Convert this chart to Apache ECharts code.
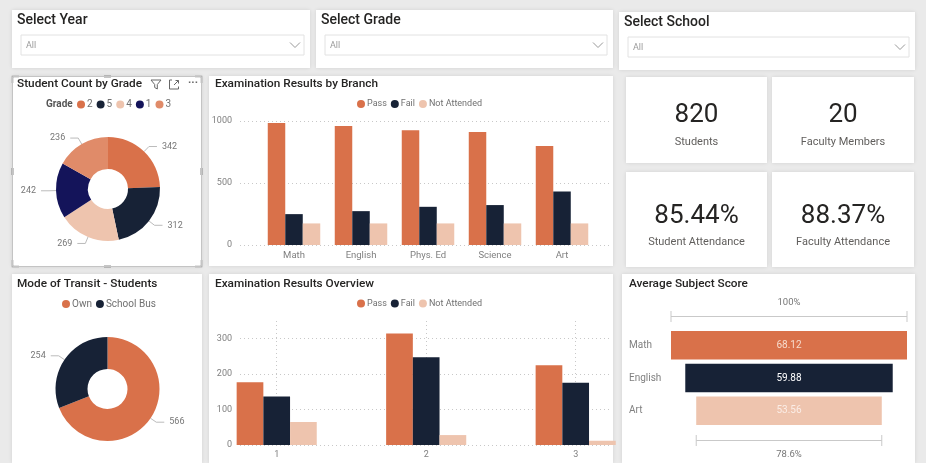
<!DOCTYPE html>
<html><head><meta charset="utf-8">
<script src="https://cdn.jsdelivr.net/npm/echarts@6/dist/echarts.min.js"></script>
<style>html,body{margin:0;padding:0;background:#eaeaea}#c{width:926px;height:463px}</style>
</head><body><div id="c"></div>
<script>
// ---------- data ----------
const slicerTitles = ['Select Year', 'Select Grade', 'Select School'];
const slicerValues = ['All', 'All', 'All'];
const gradeNames = ['2', '5', '4', '1', '3'];
const gradeCounts = [342, 312, 269, 242, 236];
const resultNames = ['Pass', 'Fail', 'Not Attended'];
const branchCategories = ['Math', 'English', 'Phys. Ed', 'Science', 'Art'];
const branchPass = [984, 960, 925, 912, 799];
const branchFail = [249, 273, 308, 322, 432];
const branchNotAttended = [174, 174, 174, 174, 174];
const branchTicks = [0, 500, 1000];
const transitNames = ['Own', 'School Bus'];
const transitCounts = [566, 254];
const overviewCategories = ['1', '2', '3'];
const overviewPass = [177, 315, 225];
const overviewFail = [137, 248, 176];
const overviewNotAttended = [65, 28, 12];
const overviewTicks = [0, 100, 200, 300];
const subjectNames = ['Math', 'English', 'Art'];
const subjectScores = [68.12, 59.88, 53.56];
const kpiValues = ['820', '20', '85.44%', '88.37%'];
const kpiLabels = ['Students', 'Faculty Members', 'Student Attendance', 'Faculty Attendance'];

// ---------- style ----------
const FONT = 'Roboto, "Noto Sans", sans-serif';
const ORANGE = '#D9714A', NAVY = '#172236', PEACH = '#EEC4AE', INDIGO = '#14145A', SALMON = '#E08B69';
const gradeColors = [ORANGE, NAVY, PEACH, INDIGO, SALMON];
const subjectColors = [ORANGE, NAVY, PEACH];
const subjectLabelColors = ['#F7DCCD', '#FFFFFF', '#FBEDE6'];
const TITLE = '#252423', AXIS = '#808080';

const chart = echarts.init(document.getElementById('c'));

const valueAxisCommon = {
  type: 'value', axisLine: {show: false}, axisTick: {show: false},
  axisLabel: {color: AXIS, fontSize: 9, fontFamily: FONT, formatter: v => String(v)},
  splitLine: {lineStyle: {type: [1, 3], color: '#c8c8c8'}}
};

function barSeries(name, color, data, xi, width) {
  return {type: 'bar', name, xAxisIndex: xi, yAxisIndex: xi, data, barWidth: width, barGap: '0%',
    itemStyle: {color}, clip: false, emphasis: {disabled: true}};
}
function legend(data, left, top, size, gap) {
  return {data, left, top, padding: 0, itemWidth: 8, itemHeight: 8, itemGap: gap, icon: 'circle',
    textStyle: {fontSize: size, color: '#707070', padding: [0, 0, 0, -3], fontFamily: FONT}};
}

const maxScore = Math.max(...subjectScores);
const minScore = Math.min(...subjectScores);

const option = {
  animation: false,
  backgroundColor: '#eaeaea',
  textStyle: {fontFamily: FONT},
  legend: [
    legend(gradeNames, 77, 99.5, 10, 4),
    legend(resultNames, 357, 99.5, 9, 4),
    legend(transitNames, 62, 299, 10, 4),
    legend(resultNames, 357, 299, 9, 4)
  ],
  grid: [
    {left: 240, right: 314, top: 121, bottom: 218},
    {left: 240, right: 314, top: 321, bottom: 18},
    {left: 671, right: 19, top: 329, bottom: 36}
  ],
  xAxis: [
    {type: 'value', gridIndex: 0, min: -0.806, max: 4.746, axisLine: {show: false},
      axisTick: {show: false, customValues: branchCategories.map((c, i) => i)},
      splitLine: {show: false},
      axisLabel: {customValues: branchCategories.map((c, i) => i), color: AXIS, fontSize: 9.5, fontFamily: FONT, margin: 6,
        formatter: v => branchCategories[v] ?? ''}},
    {type: 'value', gridIndex: 1, min: 0.7545, max: 3.243, axisLine: {show: false},
      axisTick: {show: false, customValues: overviewCategories.map(Number)},
      splitLine: {show: true, lineStyle: {type: [1, 3], color: '#c8c8c8'}},
      axisLabel: {customValues: overviewCategories.map(Number), color: AXIS, fontSize: 9, fontFamily: FONT, margin: 5,
        formatter: v => overviewCategories[overviewCategories.map(Number).indexOf(v)] ?? ''}},
    {type: 'value', gridIndex: 2, min: 0, max: maxScore, show: false}
  ],
  yAxis: [
    Object.assign({}, valueAxisCommon, {gridIndex: 0, min: branchTicks[0], max: branchTicks[branchTicks.length - 1],
      interval: branchTicks[1] - branchTicks[0], axisLabel: Object.assign({}, valueAxisCommon.axisLabel, {margin: 8})}),
    Object.assign({}, valueAxisCommon, {gridIndex: 1, min: overviewTicks[0], max: 350,
      interval: overviewTicks[1] - overviewTicks[0],
      axisLabel: Object.assign({}, valueAxisCommon.axisLabel, {margin: 8, showMaxLabel: false}),
      splitLine: {showMaxLine: false, lineStyle: {type: [1, 3], color: '#c8c8c8'}}}),
    {type: 'category', gridIndex: 2, data: subjectNames, inverse: true, axisLine: {show: false}, axisTick: {show: false},
      axisLabel: {align: 'left', margin: 42, color: AXIS, fontSize: 10, fontFamily: FONT}}
  ],
  series: [
    {type: 'pie', name: 'Grade', center: [108, 189], radius: [20, 52], startAngle: 90,
      data: gradeNames.map((n, i) => ({name: n, value: gradeCounts[i], itemStyle: {color: gradeColors[i]}})),
      label: {formatter: '{c}', fontSize: 9, color: '#777', fontFamily: FONT},
      labelLine: {length: 7, length2: 8, lineStyle: {color: '#bbb'}}, emphasis: {disabled: true}},
    {type: 'pie', name: 'Transit', center: [107.5, 389], radius: [20, 52], startAngle: 90,
      data: transitNames.map((n, i) => ({name: n, value: transitCounts[i], itemStyle: {color: [ORANGE, NAVY][i]}})),
      label: {formatter: '{c}', fontSize: 9, color: '#777', fontFamily: FONT},
      labelLine: {length: 7, length2: 8, lineStyle: {color: '#bbb'}}, emphasis: {disabled: true}},
    barSeries('Pass', ORANGE, branchCategories.map((c, i) => [i, branchPass[i]]), 0, 17.5),
    barSeries('Fail', NAVY, branchCategories.map((c, i) => [i, branchFail[i]]), 0, 17.5),
    barSeries('Not Attended', PEACH, branchCategories.map((c, i) => [i, branchNotAttended[i]]), 0, 17.5),
    barSeries('Pass', ORANGE, overviewCategories.map((c, i) => [Number(c), overviewPass[i]]), 1, 26.7),
    barSeries('Fail', NAVY, overviewCategories.map((c, i) => [Number(c), overviewFail[i]]), 1, 26.7),
    barSeries('Not Attended', PEACH, overviewCategories.map((c, i) => [Number(c), overviewNotAttended[i]]), 1, 26.7),
    {type: 'bar', name: 'offset', xAxisIndex: 2, yAxisIndex: 2, stack: 'funnel', silent: true, barCategoryGap: '13%',
      data: subjectScores.map(v => (maxScore - v) / 2), itemStyle: {color: 'transparent'}},
    {type: 'bar', name: 'Average Score', xAxisIndex: 2, yAxisIndex: 2, stack: 'funnel', barCategoryGap: '13%',
      emphasis: {disabled: true},
      data: subjectScores.map((v, i) => ({value: v, itemStyle: {color: subjectColors[i]},
        label: {color: subjectLabelColors[i]}})),
      label: {show: true, position: 'inside', fontSize: 10, fontFamily: FONT, formatter: p => p.value.toFixed(2)}}
  ]
};
chart.setOption(option);

// ---------- decorations (panels, titles, KPI cards) ----------
const g = [];
function panel(x, y, w, h) {
  g.push({type: 'rect', z: -10, shape: {x, y, width: w, height: h},
    style: {fill: '#fff', shadowBlur: 4, shadowColor: 'rgba(0,0,0,0.10)'}});
}
function text(t, x, y, size, color, weight, align) {
  g.push({type: 'text', z: 10, style: {text: t, x, y, fill: color, fontSize: size, fontFamily: FONT,
    fontWeight: weight || 'normal', textAlign: align || 'left', textVerticalAlign: 'middle'}});
}
function line(points, color, w) {
  g.push({type: 'polyline', z: 10, shape: {points}, style: {stroke: color, lineWidth: w || 1, fill: null}});
}
const slicerBoxes = [[12, 10, 298, 58], [316, 10, 297, 58], [619, 12, 296, 58]];
slicerBoxes.forEach((b, i) => {
  panel(b[0], b[1], b[2], b[3]);
  text(slicerTitles[i], b[0] + 5, b[1] + 10, 14, TITLE, 500);
  g.push({type: 'rect', z: 5, shape: {x: b[0] + 9, y: b[1] + 25, width: b[2] - 15, height: 20},
    style: {fill: '#fff', stroke: '#e2e2e2', lineWidth: 1}});
  text(slicerValues[i], b[0] + 14, b[1] + 35.5, 9, '#9a9a9a');
  const cx = b[0] + b[2] - 15;
  line([[cx - 5, b[1] + 32.5], [cx, b[1] + 37.5], [cx + 5, b[1] + 32.5]], '#999', 1);
});
panel(12, 76, 190, 191);
panel(209, 76, 404, 190);
panel(12, 274, 190, 189);
panel(209, 274, 404, 189);
panel(622, 274, 293, 189);
const cards = [[626, 77, 141, 86], [772, 77, 142, 86], [626, 172, 141, 95], [772, 172, 142, 95]];
cards.forEach((c, i) => {
  panel(c[0], c[1], c[2], c[3]);
  const cx = c[0] + c[2] / 2;
  const cy = i < 2 ? 115.5 : 216;
  text(kpiValues[i], cx, cy, 26, TITLE, 'normal', 'center');
  text(kpiLabels[i], cx, cy + 26.5, 11, '#605E5C', 'normal', 'center');
});
const TS = 11.8;
text('Student Count by Grade', 17, 84, TS, TITLE, 500);
text('Examination Results by Branch', 215, 84, TS, TITLE, 500);
text('Mode of Transit - Students', 17, 284, TS, TITLE, 500);
text('Examination Results Overview', 215, 284, TS, TITLE, 500);
text('Average Subject Score', 629, 284, TS, TITLE, 500);
text('Grade', 46, 104, 10, '#555', 'bold');
g.push({type: 'rect', z: 11, shape: {x: 12.5, y: 76.5, width: 189, height: 190},
  style: {fill: null, stroke: '#c4c4c4', lineWidth: 1}});
const fc = '#8a8a8a';
line([[12.5, 83], [12.5, 76.5], [19, 76.5]], fc, 1.5);
line([[195, 76.5], [201.5, 76.5], [201.5, 83]], fc, 1.5);
line([[12.5, 260], [12.5, 266.5], [19, 266.5]], fc, 1.5);
line([[195, 266.5], [201.5, 266.5], [201.5, 260]], fc, 1.5);
line([[104, 76.5], [111, 76.5]], fc, 2);
line([[104, 266.5], [111, 266.5]], fc, 2);
line([[12.5, 168], [12.5, 175]], fc, 2);
line([[201.5, 168], [201.5, 175]], fc, 2);
line([[151, 80], [161, 80], [157.3, 84.5], [157.3, 89], [154.7, 87.5], [154.7, 84.5], [151, 80]], '#666', 1);
line([[172, 80], [169.5, 80], [169.5, 89], [178.5, 89], [178.5, 86.5]], '#666', 1);
line([[174, 85], [178.5, 80.5]], '#666', 1);
line([[175.5, 80.5], [178.5, 80.5], [178.5, 83.5]], '#666', 1);
text('···', 193, 83, 11, '#666', 'bold', 'center');
const xTop0 = chart.convertToPixel({xAxisIndex: 2}, 0);
const xTop1 = chart.convertToPixel({xAxisIndex: 2}, maxScore);
const xBot0 = chart.convertToPixel({xAxisIndex: 2}, (maxScore - minScore) / 2);
const xBot1 = chart.convertToPixel({xAxisIndex: 2}, (maxScore + minScore) / 2);
const bc = '#c9c9c9';
line([[xTop0, 316.5], [xTop1, 316.5]], bc, 1);
line([[xTop0, 311], [xTop0, 322]], bc, 1);
line([[xTop1, 311], [xTop1, 322]], bc, 1);
line([[xBot0, 440.5], [xBot1, 440.5]], bc, 1);
line([[xBot0, 435], [xBot0, 446]], bc, 1);
line([[xBot1, 435], [xBot1, 446]], bc, 1);
text(parseFloat((maxScore / maxScore * 100).toFixed(1)) + '%', (xTop0 + xTop1) / 2, 302.5, 9.5, '#777', 'normal', 'center');
text(parseFloat((minScore / maxScore * 100).toFixed(1)) + '%', (xBot0 + xBot1) / 2, 455, 9.5, '#777', 'normal', 'center');

chart.setOption({graphic: {elements: g}});
</script></body></html>
